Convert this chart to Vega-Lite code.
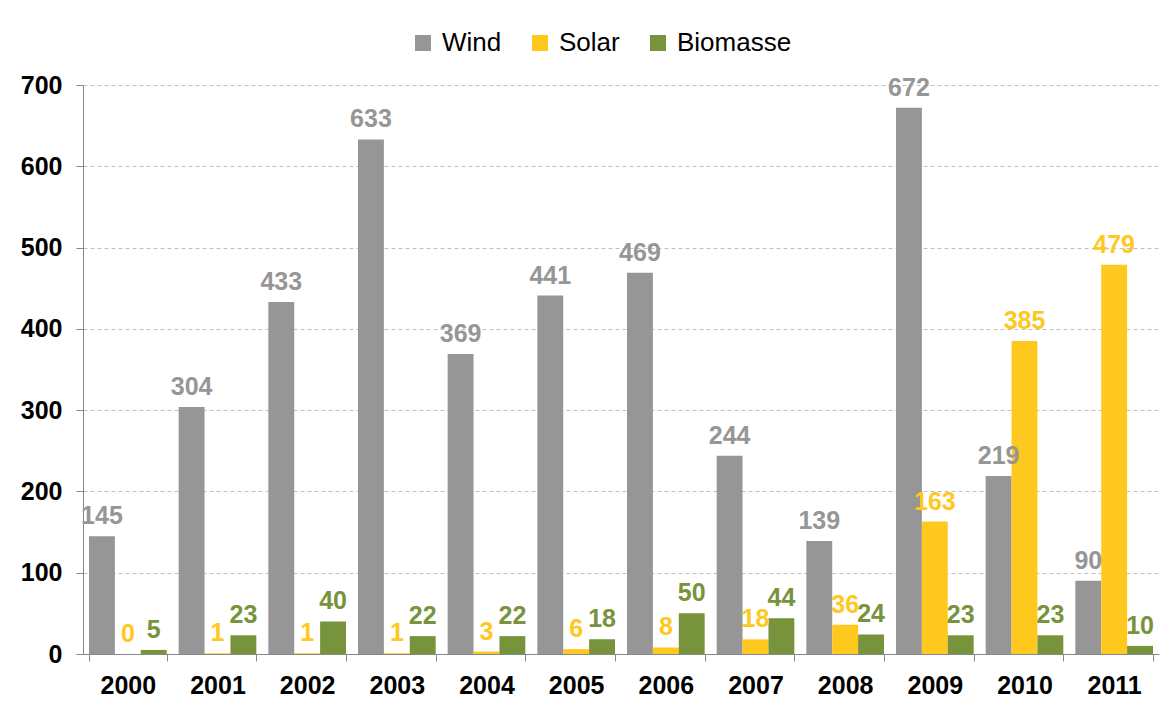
{
  "$schema": "https://vega.github.io/schema/vega-lite/v6.json",
  "autosize": "none",
  "width": 1076,
  "height": 569,
  "padding": {"left": 83, "top": 85, "right": 17, "bottom": 51},
  "background": "white",
  "config": {
    "font": "Liberation Sans",
    "view": {"stroke": null}
  },
  "data": {
    "values": [
      {"year": "2000", "series": "Wind", "value": 145}, {"year": "2000", "series": "Solar", "value": 0}, {"year": "2000", "series": "Biomasse", "value": 5},
      {"year": "2001", "series": "Wind", "value": 304}, {"year": "2001", "series": "Solar", "value": 1}, {"year": "2001", "series": "Biomasse", "value": 23},
      {"year": "2002", "series": "Wind", "value": 433}, {"year": "2002", "series": "Solar", "value": 1}, {"year": "2002", "series": "Biomasse", "value": 40},
      {"year": "2003", "series": "Wind", "value": 633}, {"year": "2003", "series": "Solar", "value": 1}, {"year": "2003", "series": "Biomasse", "value": 22},
      {"year": "2004", "series": "Wind", "value": 369}, {"year": "2004", "series": "Solar", "value": 3}, {"year": "2004", "series": "Biomasse", "value": 22},
      {"year": "2005", "series": "Wind", "value": 441}, {"year": "2005", "series": "Solar", "value": 6}, {"year": "2005", "series": "Biomasse", "value": 18},
      {"year": "2006", "series": "Wind", "value": 469}, {"year": "2006", "series": "Solar", "value": 8}, {"year": "2006", "series": "Biomasse", "value": 50},
      {"year": "2007", "series": "Wind", "value": 244}, {"year": "2007", "series": "Solar", "value": 18}, {"year": "2007", "series": "Biomasse", "value": 44},
      {"year": "2008", "series": "Wind", "value": 139}, {"year": "2008", "series": "Solar", "value": 36}, {"year": "2008", "series": "Biomasse", "value": 24},
      {"year": "2009", "series": "Wind", "value": 672}, {"year": "2009", "series": "Solar", "value": 163}, {"year": "2009", "series": "Biomasse", "value": 23},
      {"year": "2010", "series": "Wind", "value": 219}, {"year": "2010", "series": "Solar", "value": 385}, {"year": "2010", "series": "Biomasse", "value": 23},
      {"year": "2011", "series": "Wind", "value": 90}, {"year": "2011", "series": "Solar", "value": 479}, {"year": "2011", "series": "Biomasse", "value": 10}
    ]
  },
  "encoding": {
    "x": {
      "field": "year", "type": "nominal",
      "scale": {"paddingInner": 0.134, "paddingOuter": 0.067},
      "axis": {
        "title": null, "labelAngle": 0, "labelFontSize": 25, "labelFontWeight": "bold", "labelColor": "black",
        "tickBand": "extent", "tickSize": 7, "tickColor": "#888", "domainColor": "#888", "labelPadding": 12
      }
    },
    "xOffset": {"field": "series", "type": "nominal", "sort": ["Wind", "Solar", "Biomasse"], "scale": {"paddingInner": 0, "paddingOuter": 0}},
    "y": {
      "field": "value", "type": "quantitative",
      "scale": {"domain": [0, 700], "nice": false},
      "axis": {
        "title": null, "values": [0, 100, 200, 300, 400, 500, 600, 700], "labelFontSize": 25, "labelFontWeight": "bold", "labelColor": "black",
        "tickSize": 7, "tickColor": "#888", "domainColor": "#888", "labelPadding": 14,
        "grid": true, "gridColor": "#c0c0c0", "gridDash": [4, 3]
      }
    },
    "color": {
      "field": "series", "type": "nominal",
      "sort": ["Wind", "Solar", "Biomasse"],
      "scale": {"domain": ["Wind", "Solar", "Biomasse"], "range": ["#969696", "#FFC81E", "#77933C"]}
    }
  },
  "layer": [
    {
      "mark": {"type": "bar"},
      "encoding": {
        "color": {
          "field": "series", "type": "nominal",
          "sort": ["Wind", "Solar", "Biomasse"],
          "scale": {"domain": ["Wind", "Solar", "Biomasse"], "range": ["#969696", "#FFC81E", "#77933C"]},
          "legend": {
            "title": null, "orient": "none", "direction": "horizontal", "legendX": 327, "legendY": -55,
            "labelFontSize": 26, "labelColor": "black", "symbolType": "square", "symbolSize": 256,
            "symbolStrokeWidth": 0, "columnPadding": 25, "labelOffset": 6, "padding": 0
          }
        }
      }
    },
    {
      "mark": {"type": "text", "fontSize": 25, "fontWeight": "bold", "baseline": "alphabetic", "dy": -12},
      "encoding": {
        "text": {"field": "value", "type": "quantitative"}
      }
    }
  ]
}
